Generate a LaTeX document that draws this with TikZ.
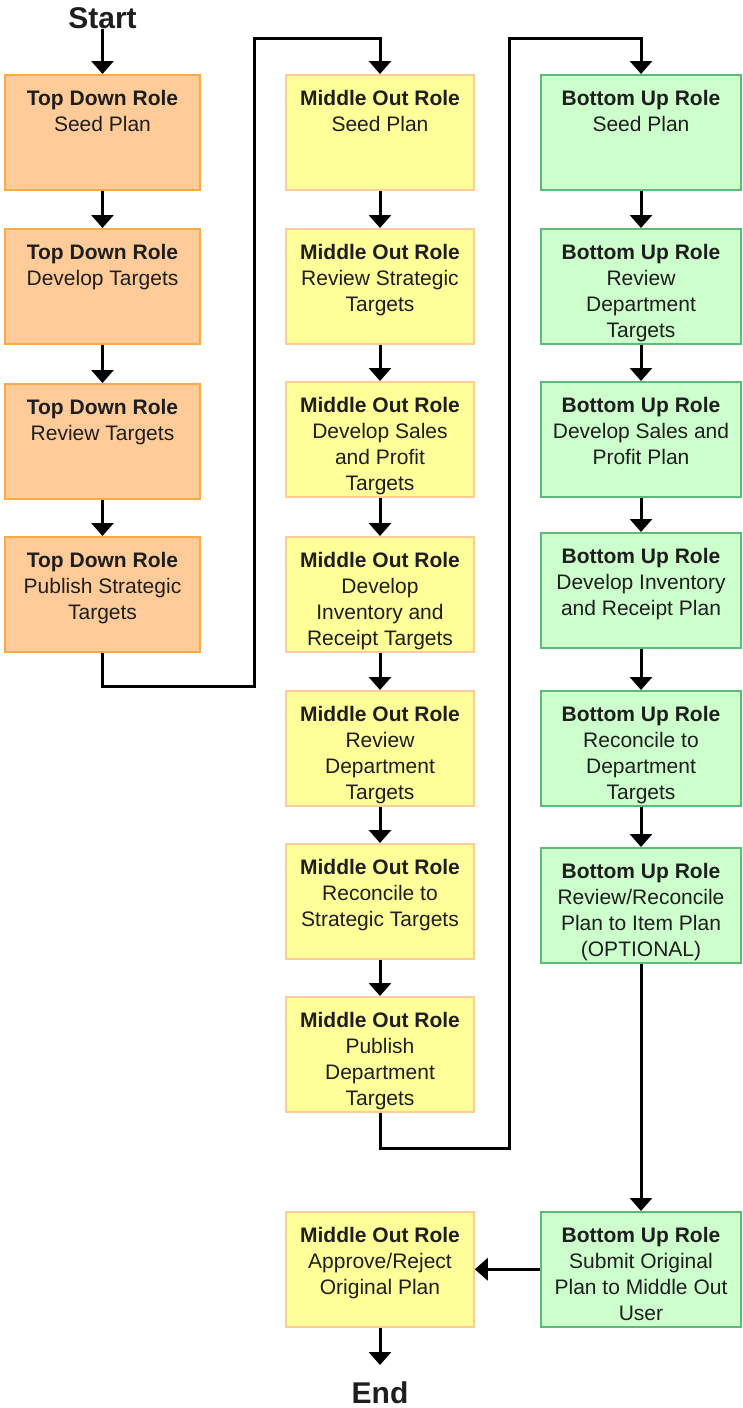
\documentclass[tikz,border=0pt]{standalone}
\usepackage{fontspec}
\setmainfont{Liberation Sans}
\usetikzlibrary{arrows.meta}
\definecolor{tdfill}{HTML}{FFCC99}
\definecolor{tddraw}{HTML}{FBAA45}
\definecolor{mofill}{HTML}{FFFF99}
\definecolor{modraw}{HTML}{FFCC99}
\definecolor{bufill}{HTML}{CCFFCC}
\definecolor{budraw}{HTML}{5DBB7A}
\definecolor{txt}{HTML}{1E1E1E}
\newcommand{\boxtext}[3]{\parbox[c][113pt][t]{#1}{\centering\vspace*{15pt}\textbf{#2}\\#3\par}}
\begin{document}
\begin{tikzpicture}[x=1pt,y=-1pt,
  rolebox/.style={line width=1.5pt, inner sep=0pt, minimum height=115pt, anchor=north, text=txt,
    font=\fontsize{21}{26}\selectfont},
  tdbox/.style={rolebox, draw=tddraw, fill=tdfill, minimum width=195pt},
  mobox/.style={rolebox, draw=modraw, fill=mofill, minimum width=188pt},
  bubox/.style={rolebox, draw=budraw, fill=bufill, minimum width=200pt},
  bigtext/.style={inner sep=0pt, text=txt, font=\fontsize{30}{36}\selectfont\bfseries},
  arr/.style={line width=3pt, -{Triangle[width=22pt,length=13pt]}}
]
\useasboundingbox (0,0) rectangle (742,1408);
% column 1
\node[tdbox] (td1) at (102.5,74)  {\boxtext{190pt}{Top Down Role}{Seed Plan}};
\node[tdbox] (td2) at (102.5,228) {\boxtext{190pt}{Top Down Role}{Develop Targets}};
\node[tdbox] (td3) at (102.5,383) {\boxtext{190pt}{Top Down Role}{Review Targets}};
\node[tdbox] (td4) at (102.5,536) {\boxtext{190pt}{Top Down Role}{Publish Strategic\\Targets}};
% column 2
\node[mobox] (mo1) at (380,74)   {\boxtext{184pt}{Middle Out Role}{Seed Plan}};
\node[mobox] (mo2) at (380,228)  {\boxtext{184pt}{Middle Out Role}{Review Strategic\\Targets}};
\node[mobox] (mo3) at (380,381)  {\boxtext{184pt}{Middle Out Role}{Develop Sales\\and Profit\\Targets}};
\node[mobox] (mo4) at (380,536)  {\boxtext{184pt}{Middle Out Role}{Develop\\Inventory and\\Receipt Targets}};
\node[mobox] (mo5) at (380,690)  {\boxtext{184pt}{Middle Out Role}{Review\\Department\\Targets}};
\node[mobox] (mo6) at (380,843)  {\boxtext{184pt}{Middle Out Role}{Reconcile to\\Strategic Targets}};
\node[mobox] (mo7) at (380,996)  {\boxtext{184pt}{Middle Out Role}{Publish\\Department\\Targets}};
\node[mobox] (mo8) at (380,1211) {\boxtext{184pt}{Middle Out Role}{Approve/Reject\\Original Plan}};
% column 3
\node[bubox] (bu1) at (641,74)   {\boxtext{196pt}{Bottom Up Role}{Seed Plan}};
\node[bubox] (bu2) at (641,228)  {\boxtext{196pt}{Bottom Up Role}{Review\\Department\\Targets}};
\node[bubox] (bu3) at (641,381)  {\boxtext{196pt}{Bottom Up Role}{Develop Sales and\\Profit Plan}};
\node[bubox] (bu4) at (641,532)  {\boxtext{196pt}{Bottom Up Role}{Develop Inventory\\and Receipt Plan}};
\node[bubox] (bu5) at (641,690)  {\boxtext{196pt}{Bottom Up Role}{Reconcile to\\Department\\Targets}};
\node[bubox] (bu6) at (641,847)  {\boxtext{196pt}{Bottom Up Role}{Review/Reconcile\\Plan to Item Plan\\(OPTIONAL)}};
\node[bubox] (bu7) at (641,1211) {\boxtext{196pt}{Bottom Up Role}{Submit Original\\Plan to Middle Out\\User}};
% start / end
\node[bigtext] (start) at (102.5,18) {Start};
\node[bigtext] (end) at (380,1393) {End};
\coordinate (endtip) at (380,1365);
% connectors
\draw[arr] (start.south) -- (td1.north);
\draw[arr] (td1) -- (td2);
\draw[arr] (td2) -- (td3);
\draw[arr] (td3) -- (td4);
\draw[arr] (td4.south) |- (254,686) -- (254,38) -| (mo1.north);
\draw[arr] (mo1) -- (mo2);
\draw[arr] (mo2) -- (mo3);
\draw[arr] (mo3) -- (mo4);
\draw[arr] (mo4) -- (mo5);
\draw[arr] (mo5) -- (mo6);
\draw[arr] (mo6) -- (mo7);
\draw[arr] (mo7.south) |- (509,1148) -- (509,38) -| (bu1.north);
\draw[arr] (bu1) -- (bu2);
\draw[arr] (bu2) -- (bu3);
\draw[arr] (bu3) -- (bu4);
\draw[arr] (bu4) -- (bu5);
\draw[arr] (bu5) -- (bu6);
\draw[arr] (bu6) -- (bu7);
\draw[arr] (bu7) -- (mo8);
\draw[arr] (mo8.south) -- (endtip);
\end{tikzpicture}
\end{document}
